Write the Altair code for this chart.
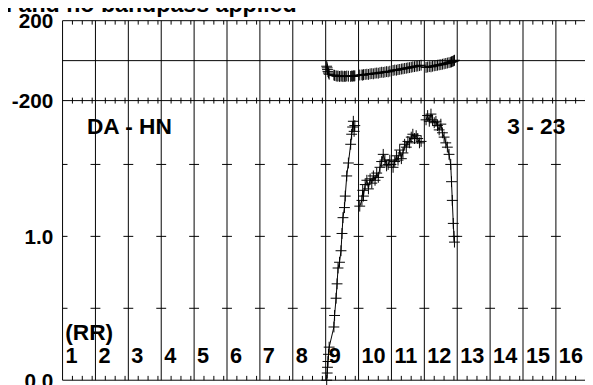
import altair as alt
import pandas as pd

# ---------------- data ----------------
title_text = "d and no bandpass applied"
baseline_label = "DA - HN"
time_label = "3 - 23"
pol_label = "(RR)"

channels = list(range(1, 17))          # IF / channel boundaries (x units)
minor_offsets = [0.3, 0.6, 0.9]        # minor frequency ticks inside each channel
amp_tick_values = [0.5, 1.0, 1.5]      # little crosses on every vertical line
phase_lines = [-200, 0, 200]
phase_axis_values = [-200, 200]
amp_axis_values = [0.0, 1.0]

# sub-band 1
sb1_x = [9.031, 9.046, 9.055, 9.070, 9.085, 9.106, 9.250, 9.271, 9.316, 9.346, 9.376,
         9.421, 9.466, 9.496, 9.526, 9.571, 9.595, 9.640, 9.691, 9.760, 9.790, 9.820,
         9.841, 9.865, 9.886]
sb1_amp = [0.00, 0.05, 0.09, 0.13, 0.18, 0.23, 0.37, 0.45, 0.57, 0.67, 0.78,
           0.82, 0.90, 1.02, 1.13, 1.20, 1.28, 1.42, 1.51, 1.64, 1.71, 1.76,
           1.80, 1.73, 1.77]
sb1_phase = [-28, -36, -45, -55, -62, -68, -72, -74, -76, -78, -77,
             -79, -78, -77, -80, -78, -79, -77, -78, -79, -77, -78,
             -76, -77, -76]

# sub-band 2
sb2_x = [10.036, 10.102, 10.126, 10.150, 10.201, 10.252, 10.300, 10.351, 10.402, 10.450,
         10.501, 10.552, 10.600, 10.651, 10.702, 10.750, 10.801, 10.852, 10.900, 10.951]
sb2_amp = [1.21, 1.25, 1.32, 1.28, 1.36, 1.39, 1.33, 1.40, 1.37, 1.42,
           1.39, 1.44, 1.41, 1.48, 1.52, 1.57, 1.53, 1.49, 1.50, 1.53]
sb2_phase = [-72, -71, -73, -70, -69, -68, -69, -66, -65, -66,
             -63, -62, -63, -60, -58, -59, -57, -55, -56, -53]

# sub-band 3
sb3_x = [11.050, 11.101, 11.152, 11.200, 11.251, 11.302, 11.350, 11.401, 11.452,
         11.500, 11.551, 11.602, 11.650, 11.701, 11.752, 11.800, 11.851, 11.902]
sb3_amp = [1.48, 1.52, 1.56, 1.53, 1.60, 1.54, 1.58, 1.64, 1.62,
           1.66, 1.65, 1.69, 1.71, 1.68, 1.70, 1.68, 1.65, 1.66]
sb3_phase = [-49, -47, -48, -45, -44, -42, -41, -39, -38,
             -36, -35, -33, -31, -30, -28, -27, -25, -23]

# sub-band 4
sb4_x = [12.052, 12.100, 12.151, 12.202, 12.250, 12.301, 12.352, 12.400, 12.451, 12.502,
         12.550, 12.601, 12.652, 12.700, 12.751, 12.802, 12.826, 12.850, 12.880, 12.901,
         12.916]
sb4_amp = [1.81, 1.84, 1.80, 1.85, 1.81, 1.79, 1.80, 1.77, 1.74, 1.78,
           1.72, 1.69, 1.65, 1.62, 1.57, 1.50, 1.38, 1.25, 1.09, 1.00,
           0.96]
sb4_phase = [-34, -32, -30, -31, -28, -26, -25, -23, -21, -20,
             -18, -16, -14, -12, -10, -8, -6, -4, -2, 0,
             2]

# ---------------- tables ----------------
rows = []
for sb, (xs, amps, phs) in enumerate([(sb1_x, sb1_amp, sb1_phase),
                                      (sb2_x, sb2_amp, sb2_phase),
                                      (sb3_x, sb3_amp, sb3_phase),
                                      (sb4_x, sb4_amp, sb4_phase)], start=1):
    for x, a, p in zip(xs, amps, phs):
        rows.append({"sb": sb, "x": x, "amp": a, "phase": p})
df = pd.DataFrame(rows)

df_ch = pd.DataFrame({"c": channels, "label": [str(c) for c in channels]})
df_minor = pd.DataFrame([{"m": c + o} for c in channels for o in minor_offsets])
df_cross = pd.DataFrame([{"c": c, "v": v} for c in channels for v in amp_tick_values])
df_pl = pd.DataFrame({"p": phase_lines})
df_a0 = pd.DataFrame({"a": [0.0]})

FONT = "Liberation Sans"
BLACK = "#000000"
PLUS = "M-1,0L1,0M0,-1L0,1"

x_scale = alt.Scale(domain=[1, 16.885], nice=False, zero=False)
phase_scale = alt.Scale(domain=[-200, 200], range=[81, 0], nice=False, zero=False)
amp_scale = alt.Scale(domain=[0, 1], range=[364.4, 218.6], nice=False, zero=False)

X = lambda f: alt.X(f, type="quantitative", scale=x_scale, axis=None)

vlines = alt.Chart(df_ch).mark_rule(color=BLACK, strokeWidth=1).encode(x=X("c"))
hlines = alt.Chart(df_pl).mark_rule(color=BLACK, strokeWidth=1).encode(
    y=alt.Y("p:Q", scale=phase_scale, axis=None))
a0line = alt.Chart(df_a0).mark_rule(color=BLACK, strokeWidth=1).encode(
    y=alt.Y("a:Q", scale=amp_scale, axis=None))

top_ticks = alt.Chart(df_minor).mark_rule(color=BLACK, strokeWidth=1).encode(
    x=X("m"), y=alt.value(0), y2=alt.value(4))
mid_ticks = alt.Chart(df_minor).mark_rule(color=BLACK, strokeWidth=1).encode(
    x=X("m"), y=alt.value(78), y2=alt.value(84))
bot_ticks = alt.Chart(df_minor).mark_rule(color=BLACK, strokeWidth=1).encode(
    x=X("m"), y=alt.value(360), y2=alt.value(364.4))

crosses = alt.Chart(df_cross).transform_calculate(
    x0="max(datum.c - 0.15, 1)", x1="datum.c + 0.15"
).mark_rule(color=BLACK, strokeWidth=1).encode(
    x=X("x0"), x2="x1:Q", y=alt.Y("v:Q", scale=amp_scale, axis=None))

phase_line = alt.Chart(df).mark_line(color=BLACK, strokeWidth=1).encode(
    x=X("x"), y=alt.Y("phase:Q", scale=phase_scale, axis=None),
    detail="sb:N", order="x:Q")
amp_line = alt.Chart(df).mark_line(color=BLACK, strokeWidth=1).encode(
    x=X("x"), y=alt.Y("amp:Q", scale=amp_scale, axis=None),
    detail="sb:N", order="x:Q")

axis_style = dict(orient="left", domain=False, ticks=False, grid=False,
                  labelFont=FONT, labelFontSize=21, labelFontWeight="bold",
                  labelColor=BLACK, labelPadding=10, title=None, labelOffset=1)

phase_pts = alt.Chart(df).mark_point(shape=PLUS, size=121, filled=False, color=BLACK,
                                     strokeWidth=1, opacity=1).encode(
    x=X("x"),
    y=alt.Y("phase:Q", scale=phase_scale,
            axis=alt.Axis(values=phase_axis_values, labelExpr="'' + datum.value",
                          **axis_style)))
amp_pts = alt.Chart(df).mark_point(shape=PLUS, size=121, filled=False, color=BLACK,
                                   strokeWidth=1, opacity=1).encode(
    x=X("x"),
    y=alt.Y("amp:Q", scale=amp_scale,
            axis=alt.Axis(values=amp_axis_values, format=".1f", **axis_style)))

txt = dict(font=FONT, fontWeight="bold", color=BLACK, align="left", baseline="alphabetic")

ch_labels = alt.Chart(df_ch).mark_text(fontSize=22, dx=3, **txt).encode(
    x=X("c"), y=alt.value(346.7), text="label:N")

def note(s, xv, yv, size):
    return alt.Chart(pd.DataFrame({"t": [s]})).mark_text(fontSize=size, **txt).encode(
        x=alt.value(xv), y=alt.value(yv), text="t:N")

notes = [note(title_text, -65.5, -9.0, 23.5),
         note(baseline_label, 24.7, 114.7, 23),
         note(time_label, 450.7, 114.4, 23),
         note(pol_label, 2.7, 323.4, 23)]

chart = alt.layer(
    vlines, hlines, a0line, top_ticks, mid_ticks, bot_ticks, crosses,
    phase_line, amp_line, phase_pts, amp_pts, ch_labels, *notes
).resolve_scale(y="independent").properties(
    width=529.5, height=364.4,
    autosize=alt.AutoSizeParams(type="none"),
    padding={"left": 55.3, "top": 10.3, "right": 0, "bottom": 2.3},
    background="white",
).configure_view(stroke=None)

chart.save("out.html", embed_options={"renderer": "svg", "actions": False})
